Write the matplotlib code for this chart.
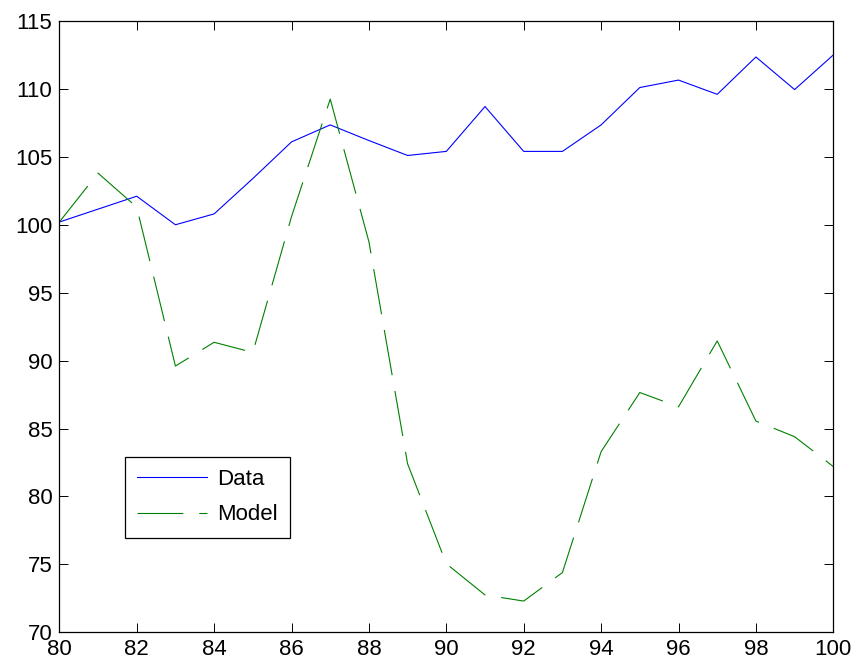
import matplotlib
matplotlib.use("Agg")
import matplotlib.pyplot as plt

years = list(range(80, 101))
data = [100.2, 101.15, 102.1, 100.0, 100.8, 103.4, 106.1, 107.35, 106.2, 105.1, 105.4,
        108.7, 105.4, 105.4, 107.35, 110.1, 110.65, 109.6, 112.35, 109.95, 112.5]
model = [100.2, 103.8, 101.3, 89.6, 91.35, 90.6, 100.6, 109.25, 98.75, 82.4, 75.05,
         72.75, 72.3, 74.4, 83.3, 87.65, 86.6, 91.45, 85.55, 84.4, 82.2]
xticks = list(range(80, 101, 2))
yticks = list(range(70, 116, 5))

plt.rcParams['font.family'] = ['Liberation Sans', 'DejaVu Sans']
plt.rcParams['lines.scale_dashes'] = False

fig = plt.figure(figsize=(8.56, 6.68), dpi=100)
ax = fig.add_axes([0.0693, 0.0534, 0.9735 - 0.0693, 0.9686 - 0.0534])

ax.plot(years, data, color=(0, 0, 1), lw=0.8, label='Data')
ax.plot(years, model, color=(0, 0.5, 0), lw=0.8, dashes=(33, 11.5), label='Model')

ax.set_xlim(80, 100)
ax.set_ylim(70, 115)
ax.set_xticks(xticks)
ax.set_yticks(yticks)
ax.tick_params(direction='in', length=6.5, width=0.7, top=True, right=True,
               labelsize=16, pad=5, color='black')
for s in ax.spines.values():
    s.set_linewidth(0.9)
    s.set_color('black')

leg = ax.legend(loc='lower left', bbox_to_anchor=(0.0845, 0.1548), fontsize=16,
                frameon=True, fancybox=False, edgecolor='black', framealpha=1,
                handlelength=3.15, handletextpad=0.45, borderpad=0.55,
                labelspacing=0.66, borderaxespad=0)
leg.get_frame().set_linewidth(0.9)

fig.savefig('out.png', dpi=100)
